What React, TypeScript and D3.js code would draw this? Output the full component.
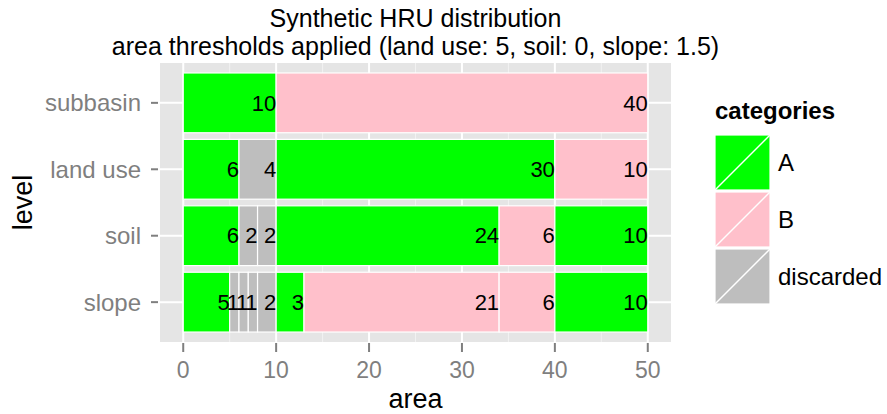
import React from 'react'
import * as d3 from 'd3'

// levels, top to bottom
const levels = ['subbasin', 'land use', 'soil', 'slope']

// segment areas and categories per level (left to right)
const subbasinAreas = [10, 40]
const subbasinCats = ['A', 'B']
const landuseAreas = [6, 4, 30, 10]
const landuseCats = ['A', 'discarded', 'A', 'B']
const soilAreas = [6, 2, 2, 24, 6, 10]
const soilCats = ['A', 'discarded', 'discarded', 'A', 'B', 'A']
const slopeAreas = [5, 1, 1, 1, 2, 3, 21, 6, 10]
const slopeCats = ['A', 'discarded', 'discarded', 'discarded', 'discarded', 'A', 'B', 'B', 'A']

const categories = ['A', 'B', 'discarded']
const categoryColors = ['#00FF00', '#FFC0CB', '#BEBEBE']
const xTicks = [0, 10, 20, 30, 40, 50]
const xMinor = [5, 15, 25, 35, 45]

const W = 887
const H = 414
const panel = { left: 160, right: 671, top: 63, bottom: 342 }
const font = 'Liberation Sans, Arial, Helvetica, sans-serif'

function App() {
  const x = d3.scaleLinear().domain([-2.5, 52.5]).range([panel.left, panel.right])
  // discrete axis: levels 1..4 plus 0.6 expansion, first level at the top
  const y = d3.scaleLinear().domain([0.4, 4.6]).range([panel.top, panel.bottom])
  const color = d3.scaleOrdinal<string, string>().domain(categories).range(categoryColors)

  const rows = [
    { level: levels[0], areas: subbasinAreas, cats: subbasinCats },
    { level: levels[1], areas: landuseAreas, cats: landuseCats },
    { level: levels[2], areas: soilAreas, cats: soilCats },
    { level: levels[3], areas: slopeAreas, cats: slopeCats },
  ]

  const segs = rows.flatMap((r, i) => {
    const ends = Array.from(d3.cumsum(r.areas))
    return r.areas.map((a, j) => ({
      row: i + 1,
      x0: ends[j] - a,
      x1: ends[j],
      value: a,
      cat: r.cats[j],
    }))
  })

  const barH = 0.9
  const cx = (panel.left + panel.right) / 2

  return (
    <svg width={W} height={H} style={{ position: 'absolute', left: 0, top: 0 }} fontFamily={font}>
      <rect width={W} height={H} fill="#fff" />
      {/* title */}
      <text x={cx} y={27} textAnchor="middle" fontSize={25}>
        Synthetic HRU distribution
      </text>
      <text x={cx} y={55} textAnchor="middle" fontSize={25}>
        area thresholds applied (land use: 5, soil: 0, slope: 1.5)
      </text>

      {/* panel */}
      <rect x={panel.left} y={panel.top} width={panel.right - panel.left} height={panel.bottom - panel.top} fill="#E5E5E5" />
      {xMinor.map(t => (
        <line key={'mn' + t} x1={x(t)} x2={x(t)} y1={panel.top} y2={panel.bottom} stroke="#F2F2F2" strokeWidth={1} />
      ))}
      {xTicks.map(t => (
        <line key={'mj' + t} x1={x(t)} x2={x(t)} y1={panel.top} y2={panel.bottom} stroke="#fff" strokeWidth={2} />
      ))}
      {levels.map((l, i) => (
        <line key={'hy' + l} x1={panel.left} x2={panel.right} y1={y(i + 1)} y2={y(i + 1)} stroke="#fff" strokeWidth={2} />
      ))}

      {/* bars */}
      {segs.map((s, i) => (
        <rect
          key={'b' + i}
          x={x(s.x0)}
          width={x(s.x1) - x(s.x0)}
          y={y(s.row - barH / 2)}
          height={y(s.row + barH / 2) - y(s.row - barH / 2)}
          fill={color(s.cat)}
          stroke="#fff"
          strokeWidth={1.2}
        />
      ))}
      {segs.map((s, i) => (
        <text key={'t' + i} x={x(s.x1)} y={y(s.row)} dy="0.35em" textAnchor="end" fontSize={22} fill="#000">
          {s.value}
        </text>
      ))}

      {/* y axis */}
      {levels.map((l, i) => (
        <g key={'yl' + l}>
          <line x1={panel.left - 9} x2={panel.left - 2} y1={y(i + 1)} y2={y(i + 1)} stroke="#7F7F7F" strokeWidth={2} />
          <text x={panel.left - 19} y={y(i + 1)} dy="0.35em" textAnchor="end" fontSize={24} fill="#7F7F7F">
            {l}
          </text>
        </g>
      ))}
      <text transform={`translate(32,${(panel.top + panel.bottom) / 2}) rotate(-90)`} textAnchor="middle" fontSize={27}>
        level
      </text>

      {/* x axis */}
      {xTicks.map(t => (
        <g key={'xl' + t}>
          <line x1={x(t)} x2={x(t)} y1={panel.bottom + 1} y2={panel.bottom + 10} stroke="#7F7F7F" strokeWidth={2} />
          <text x={x(t)} y={378} textAnchor="middle" fontSize={23} fill="#7F7F7F">
            {t}
          </text>
        </g>
      ))}
      <text x={cx} y={408} textAnchor="middle" fontSize={27}>
        area
      </text>

      {/* legend */}
      <text x={715} y={119} fontSize={24} fontWeight="bold">
        categories
      </text>
      {categories.map((c, i) => {
        const ky = 135 + i * 57
        return (
          <g key={'lg' + c}>
            <rect x={715} y={ky} width={55} height={55} fill={color(c)} stroke="#fff" strokeWidth={1.2} />
            <line x1={715} y1={ky + 55} x2={770} y2={ky} stroke="#fff" strokeWidth={1.5} />
            <text x={778} y={ky + 27.5} dy="0.35em" fontSize={24}>
              {c}
            </text>
          </g>
        )
      })}
    </svg>
  )
}

export default App
